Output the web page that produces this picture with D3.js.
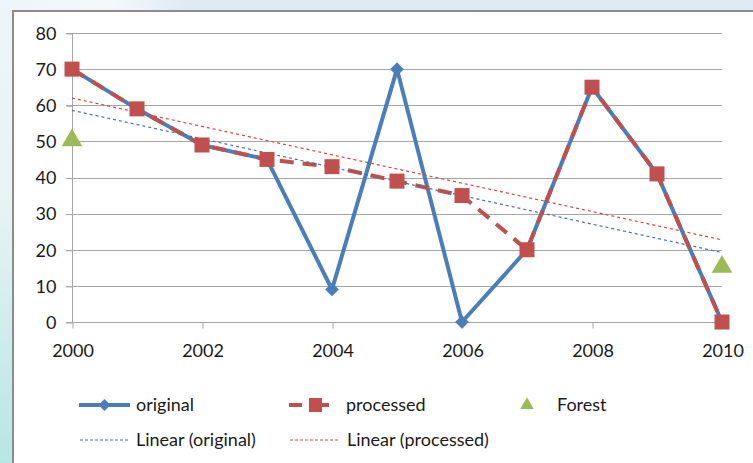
<!DOCTYPE html>
<html>
<head>
<meta charset="utf-8">
<script src="https://cdn.jsdelivr.net/npm/d3@7"></script>
<style>
  html, body { margin: 0; padding: 0; background: #fff; }
  svg { display: block; }
  text { font-family: Lato, "Open Sans", sans-serif; fill: #1a1a1a; }
</style>
</head>
<body>
<svg id="chart" width="753" height="463"></svg>
<script>
// Yearly values
const years = [2000, 2001, 2002, 2003, 2004, 2005, 2006, 2007, 2008, 2009, 2010];
const original = [70, 59, 49, 45, 9, 70, 0, 20, 65, 41, 0];
const processed = [70, 59, 49, 45, 43, 39, 35, 20, 65, 41, 0];
const forestYears = [2000, 2010];
const forest = [50, 15];
const yTicks = [0, 10, 20, 30, 40, 50, 60, 70, 80];
const xTicks = [2000, 2002, 2004, 2006, 2008, 2010];

const colors = { original: "#4a7ebb", processed: "#c0504d", forest: "#9bbb59" };

const svg = d3.select("#chart");
const W = 753, H = 463;
const fs = "18px";

// Frame backgrounds
const defs = svg.append("defs");
const side = defs.append("linearGradient").attr("id", "sideGrad")
  .attr("x1", 0).attr("y1", 0).attr("x2", 0).attr("y2", 1);
side.append("stop").attr("offset", "0%").attr("stop-color", "#eef5fa");
side.append("stop").attr("offset", "45%").attr("stop-color", "#e6f3f3");
side.append("stop").attr("offset", "100%").attr("stop-color", "#b6e6e4");
const topG = defs.append("linearGradient").attr("id", "topGrad")
  .attr("x1", 0).attr("y1", 0).attr("x2", 1).attr("y2", 0);
topG.append("stop").attr("offset", "0%").attr("stop-color", "#eef5fa");
topG.append("stop").attr("offset", "15%").attr("stop-color", "#f4f8fb");
topG.append("stop").attr("offset", "25%").attr("stop-color", "#dcebf5");
topG.append("stop").attr("offset", "100%").attr("stop-color", "#dbeaf5");

svg.append("rect").attr("x", 0).attr("y", 0).attr("width", W).attr("height", H).attr("fill", "url(#sideGrad)");
svg.append("rect").attr("x", 0).attr("y", 0).attr("width", W).attr("height", 11).attr("fill", "url(#topGrad)");
svg.append("rect").attr("x", 14).attr("y", 11).attr("width", W - 14).attr("height", H - 11).attr("fill", "#fff");
svg.append("line").attr("x1", 13).attr("x2", 13).attr("y1", 10).attr("y2", H)
  .attr("stroke", "#8c8c8c").attr("stroke-width", 2);
svg.append("line").attr("x1", 12).attr("x2", W).attr("y1", 11).attr("y2", 11)
  .attr("stroke", "#8c8c8c").attr("stroke-width", 2);

// Scales
const x = d3.scaleLinear().domain([2000, 2010]).range([72, 722]);
const y = d3.scaleLinear().domain([0, 80]).range([322, 33]);

// Gridlines
svg.append("g").selectAll("line").data(yTicks).join("line")
  .attr("x1", 66).attr("x2", 722)
  .attr("y1", d => Math.round(y(d)) + 0.5).attr("y2", d => Math.round(y(d)) + 0.5)
  .attr("stroke", "#a6a6a6").attr("stroke-width", 1);

// Y axis
const yAxis = d3.axisLeft(y).tickValues(yTicks).tickSize(6).tickPadding(10);
const gy = svg.append("g").attr("transform", "translate(72.5,0.5)").call(yAxis);
gy.select(".domain").attr("stroke", "#a6a6a6").attr("d", `M0,${y(80)}V${y(0)}`);
gy.selectAll(".tick line").attr("stroke", "#a6a6a6");
gy.selectAll(".tick text").style("font-size", fs).attr("fill", "#1a1a1a")
  .attr("font-family", "Lato, 'Open Sans', sans-serif");

// X axis
const xAxis = d3.axisBottom(x).tickValues(xTicks).tickFormat(d3.format("d")).tickSize(6).tickPadding(16);
const gx = svg.append("g").attr("transform", `translate(0.5,${Math.round(y(0)) + 0.5})`).call(xAxis);
gx.select(".domain").remove();
gx.selectAll(".tick line").attr("stroke", "#a6a6a6");
gx.selectAll(".tick text").style("font-size", fs).attr("fill", "#1a1a1a")
  .attr("font-family", "Lato, 'Open Sans', sans-serif");

// Least-squares trend for a series
function trend(xs, ys) {
  const n = xs.length;
  const mx = d3.mean(xs), my = d3.mean(ys);
  let sxy = 0, sxx = 0;
  for (let i = 0; i < n; i++) { sxy += (xs[i] - mx) * (ys[i] - my); sxx += (xs[i] - mx) ** 2; }
  const b = sxy / sxx, a = my - b * mx;
  return [[xs[0], a + b * xs[0]], [xs[n - 1], a + b * xs[n - 1]]];
}

const line = d3.line().x(d => x(d[0])).y(d => y(d[1]));
const origPts = years.map((yr, i) => [yr, original[i]]);
const procPts = years.map((yr, i) => [yr, processed[i]]);

// Series lines
svg.append("path").datum(origPts).attr("d", line)
  .attr("fill", "none").attr("stroke", colors.original).attr("stroke-width", 4).attr("stroke-linejoin", "round");
svg.append("path").datum(procPts).attr("d", line)
  .attr("fill", "none").attr("stroke", colors.processed).attr("stroke-width", 4)
  .attr("stroke-dasharray", "14 9");

// Trend lines
svg.append("path").datum(trend(years, original)).attr("d", line)
  .attr("fill", "none").attr("stroke", "#4a6fa8").attr("stroke-width", 1.2).attr("stroke-dasharray", "3 3");
svg.append("path").datum(trend(years, processed)).attr("d", line)
  .attr("fill", "none").attr("stroke", "#e0413c").attr("stroke-width", 1.2).attr("stroke-dasharray", "3 3");

// Markers
const diamond = d3.symbol().type(d3.symbolDiamond2).size(120);
svg.append("g").selectAll("path").data(origPts).join("path")
  .attr("transform", d => `translate(${x(d[0])},${y(d[1])})`)
  .attr("d", diamond).attr("fill", colors.original);
svg.append("g").selectAll("rect").data(procPts).join("rect")
  .attr("x", d => x(d[0]) - 7.5).attr("y", d => y(d[1]) - 7.5)
  .attr("width", 15).attr("height", 15).attr("fill", colors.processed);
const tri = d3.symbol().type(d3.symbolTriangle).size(185);
svg.append("g").selectAll("path").data(forestYears.map((yr, i) => [yr, forest[i]])).join("path")
  .attr("transform", d => `translate(${x(d[0])},${y(d[1]) - 1})`)
  .attr("d", tri).attr("fill", colors.forest);

// Legend
const leg = svg.append("g");
// original
leg.append("line").attr("x1", 79).attr("x2", 130).attr("y1", 405).attr("y2", 405)
  .attr("stroke", colors.original).attr("stroke-width", 4);
leg.append("path").attr("transform", "translate(104.5,405)").attr("d", d3.symbol().type(d3.symbolDiamond2).size(90))
  .attr("fill", colors.original);
leg.append("text").attr("x", 136).attr("y", 405).attr("dy", "0.35em").style("font-size", fs).text("original");
// processed
leg.append("line").attr("x1", 289).attr("x2", 302).attr("y1", 405).attr("y2", 405)
  .attr("stroke", colors.processed).attr("stroke-width", 4);
leg.append("line").attr("x1", 313).attr("x2", 329).attr("y1", 405).attr("y2", 405)
  .attr("stroke", colors.processed).attr("stroke-width", 4);
leg.append("rect").attr("x", 309).attr("y", 398).attr("width", 13).attr("height", 14).attr("fill", colors.processed);
leg.append("text").attr("x", 346).attr("y", 405).attr("dy", "0.35em").style("font-size", fs).text("processed");
// Forest
leg.append("path").attr("transform", "translate(527,405)").attr("d", d3.symbol().type(d3.symbolTriangle).size(80))
  .attr("fill", colors.forest);
leg.append("text").attr("x", 557).attr("y", 405).attr("dy", "0.35em").style("font-size", fs).text("Forest");
// trend entries
leg.append("line").attr("x1", 80).attr("x2", 130).attr("y1", 440).attr("y2", 440)
  .attr("stroke", "#4a6fa8").attr("stroke-width", 1).attr("stroke-dasharray", "3 2");
leg.append("text").attr("x", 136).attr("y", 440).attr("dy", "0.35em").style("font-size", fs).text("Linear (original)");
leg.append("line").attr("x1", 290).attr("x2", 340).attr("y1", 440).attr("y2", 440)
  .attr("stroke", "#e0413c").attr("stroke-width", 1).attr("stroke-dasharray", "3 2");
leg.append("text").attr("x", 347).attr("y", 440).attr("dy", "0.35em").style("font-size", fs).text("Linear (processed)");
</script>
</body>
</html>
